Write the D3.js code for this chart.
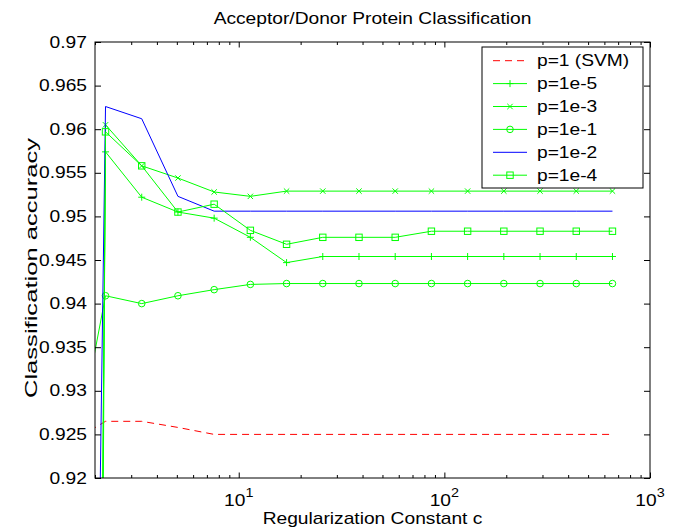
<!DOCTYPE html>
<html>
<head>
<meta charset="utf-8">
<script src="https://cdn.jsdelivr.net/npm/d3@7"></script>
<style>
  html, body { margin: 0; padding: 0; background: #fff; }
  svg { display: block; }
  text { font-family: "Liberation Sans", Arial, Helvetica, sans-serif; fill: #000; }
</style>
</head>
<body>
<svg id="chart" width="675" height="532"></svg>
<script>
// ---------------- data ----------------
const title = "Acceptor/Donor Protein Classification";
const xLabel = "Regularization Constant c";
const yLabel = "Classification accuracy";
// regularization constants (first one lies left of the visible axis range)
const cValues = [1.5, 2.25, 3.375, 5.0625, 7.59375, 11.390625, 17.0859, 25.6289, 38.4434, 57.665, 86.498, 129.746, 194.62, 291.929, 437.894, 656.84];
const seriesNames = ["p=1 (SVM)", "p=1e-5", "p=1e-3", "p=1e-1", "p=1e-2", "p=1e-4"];
const accSVM  = [0.9240, 0.9265, 0.9265, 0.9258, 0.9250, 0.9250, 0.9250, 0.9250, 0.9250, 0.9250, 0.9250, 0.9250, 0.9250, 0.9250, 0.9250, 0.9250];
const acc1e5  = [0.4590, 0.9574, 0.9522, 0.9505, 0.9498, 0.9476, 0.9447, 0.9454, 0.9454, 0.9454, 0.9454, 0.9454, 0.9454, 0.9454, 0.9454, 0.9454];
const acc1e3  = [0.2970, 0.9605, 0.9558, 0.9544, 0.9528, 0.9523, 0.9529, 0.9529, 0.9529, 0.9529, 0.9529, 0.9529, 0.9529, 0.9529, 0.9529, 0.9529];
const acc1e1  = [0.9191, 0.9409, 0.9400, 0.9409, 0.9416, 0.9422, 0.9423, 0.9423, 0.9423, 0.9423, 0.9423, 0.9423, 0.9423, 0.9423, 0.9423, 0.9423];
const acc1e2  = [0.6670, 0.9626, 0.9612, 0.9523, 0.9506, 0.9506, 0.9506, 0.9506, 0.9506, 0.9506, 0.9506, 0.9506, 0.9506, 0.9506, 0.9506, 0.9506];
const acc1e4  = [0.4300, 0.9597, 0.9558, 0.9505, 0.9514, 0.9484, 0.9468, 0.9476, 0.9476, 0.9476, 0.9483, 0.9483, 0.9483, 0.9483, 0.9483, 0.9483];
const xDomain = [2, 1000];
const yDomain = [0.92, 0.97];
const xMajorTicks = [10, 100, 1000];
const xMinorTicks = [2,3,4,5,6,7,8,9,20,30,40,50,60,70,80,90,200,300,400,500,600,700,800,900];
const xTickExponents = ["1", "2", "3"];

// ---------------- layout ----------------
const L = 95, R = 650, T = 42, B = 478;
const SX = 1.2;       // horizontal stretch of the original text
const FS = 16;

const svg = d3.select("#chart");
const x = d3.scaleLog().domain(xDomain).range([L, R]);
const y = d3.scaleLinear().domain(yDomain).range([B, T]);

const series = [
  {name: seriesNames[0], values: accSVM, color: "#ff0000", dash: "7,5", marker: null},
  {name: seriesNames[1], values: acc1e5, color: "#00ff00", dash: null, marker: "plus"},
  {name: seriesNames[2], values: acc1e3, color: "#00ff00", dash: null, marker: "x"},
  {name: seriesNames[3], values: acc1e1, color: "#00ff00", dash: null, marker: "circle"},
  {name: seriesNames[4], values: acc1e2, color: "#0000ff", dash: null, marker: null},
  {name: seriesNames[5], values: acc1e4, color: "#00ff00", dash: null, marker: "square"}
];

function stext(parent, tx, ty, str, anchor, size, rot, sx) {
  const g = parent.append("g")
    .attr("transform", `translate(${tx},${ty})` + (rot ? ` rotate(${rot})` : "") + ` scale(${sx || SX},1)`);
  return g.append("text").attr("text-anchor", anchor || "start")
    .style("font-size", (size || FS) + "px").text(str);
}

function drawMarker(g, type, cx, cy, color) {
  if (type === "plus") {
    g.append("path").attr("d", `M${cx-3.5},${cy}H${cx+3.5}M${cx},${cy-3.5}V${cy+3.5}`)
      .attr("stroke", color).attr("fill", "none").attr("stroke-width", 1);
  } else if (type === "x") {
    g.append("path").attr("d", `M${cx-2.7},${cy-2.7}L${cx+2.7},${cy+2.7}M${cx-2.7},${cy+2.7}L${cx+2.7},${cy-2.7}`)
      .attr("stroke", color).attr("fill", "none").attr("stroke-width", 1);
  } else if (type === "circle") {
    g.append("circle").attr("cx", cx).attr("cy", cy).attr("r", 3.3)
      .attr("stroke", color).attr("fill", "none").attr("stroke-width", 1);
  } else if (type === "square") {
    g.append("rect").attr("x", cx-3.2).attr("y", cy-3.2).attr("width", 6.4).attr("height", 6.4)
      .attr("stroke", color).attr("fill", "none").attr("stroke-width", 1);
  }
}

// clip
svg.append("defs").append("clipPath").attr("id", "plotclip")
  .append("rect").attr("x", L).attr("y", T).attr("width", R - L).attr("height", B - T);

// data
const line = d3.line().x((d, i) => x(cValues[i])).y(d => y(d));
const dataG = svg.append("g").attr("clip-path", "url(#plotclip)");
series.forEach(s => {
  dataG.append("path").datum(s.values).attr("d", line)
    .attr("fill", "none").attr("stroke", s.color).attr("stroke-width", 1)
    .attr("stroke-dasharray", s.dash);
  if (s.marker) {
    s.values.forEach((v, i) => drawMarker(dataG, s.marker, x(cValues[i]), y(v), s.color));
  }
});

// axes (ticks pointing inward)
const yTicks = y.ticks(10);
const fmt = v => String(+v.toFixed(3));
const axL = svg.append("g").attr("transform", `translate(${L},0)`)
  .call(d3.axisLeft(y).tickValues(yTicks).tickSizeInner(-6).tickSizeOuter(0).tickPadding(6.7).tickFormat(fmt));
axL.selectAll("text").attr("transform", `scale(${SX},1)`).style("font-size", FS + "px")
  .style("font-family", '"Liberation Sans", Arial, sans-serif');
const axR = svg.append("g").attr("transform", `translate(${R},0)`)
  .call(d3.axisRight(y).tickValues(yTicks).tickSizeInner(-6).tickSizeOuter(0).tickFormat(""));
const axB = svg.append("g").attr("transform", `translate(0,${B})`)
  .call(d3.axisBottom(x).tickValues(xMajorTicks).tickSizeInner(-5.5).tickSizeOuter(0).tickFormat(""));
const axBm = svg.append("g").attr("transform", `translate(0,${B})`)
  .call(d3.axisBottom(x).tickValues(xMinorTicks).tickSizeInner(-3).tickSizeOuter(0).tickFormat(""));
const axT = svg.append("g").attr("transform", `translate(0,${T})`)
  .call(d3.axisTop(x).tickValues(xMajorTicks).tickSizeInner(-5.5).tickSizeOuter(0).tickFormat(""));
const axTm = svg.append("g").attr("transform", `translate(0,${T})`)
  .call(d3.axisTop(x).tickValues(xMinorTicks).tickSizeInner(-3).tickSizeOuter(0).tickFormat(""));
[axL, axR, axB, axBm, axT, axTm].forEach(a => {
  a.select(".domain").remove();
  a.selectAll("line").attr("stroke", "#000");
});

// frame
svg.append("rect").attr("x", L).attr("y", T).attr("width", R - L).attr("height", B - T)
  .attr("fill", "none").attr("stroke", "#000").attr("stroke-width", 1);

// x tick labels 10^n
xMajorTicks.forEach((v, i) => {
  const t = stext(svg, x(v), 505.5, "", "middle", FS);
  t.append("tspan").text("10");
  t.append("tspan").attr("dy", -9).style("font-size", "12px").text(xTickExponents[i]);
});

// title and axis labels
stext(svg, (L + R) / 2, 24, title, "middle", FS);
stext(svg, (L + R) / 2, 524, xLabel, "middle", FS);
stext(svg, 37, 268, yLabel, "middle", FS, -90, 1.6);

// legend
const lg = svg.append("g");
lg.append("rect").attr("x", 482).attr("y", 47).attr("width", 161).attr("height", 141)
  .attr("fill", "#fff").attr("stroke", "#000").attr("stroke-width", 1);
series.forEach((s, i) => {
  const cy = 60.7 + i * 22.9;
  lg.append("line").attr("x1", 493).attr("x2", 527).attr("y1", cy).attr("y2", cy)
    .attr("stroke", s.color).attr("stroke-width", 1).attr("stroke-dasharray", s.dash);
  if (s.marker) drawMarker(lg, s.marker, 510, cy, s.color);
  stext(lg, 537, cy + 5.7, s.name, "start", FS);
});
</script>
</body>
</html>
